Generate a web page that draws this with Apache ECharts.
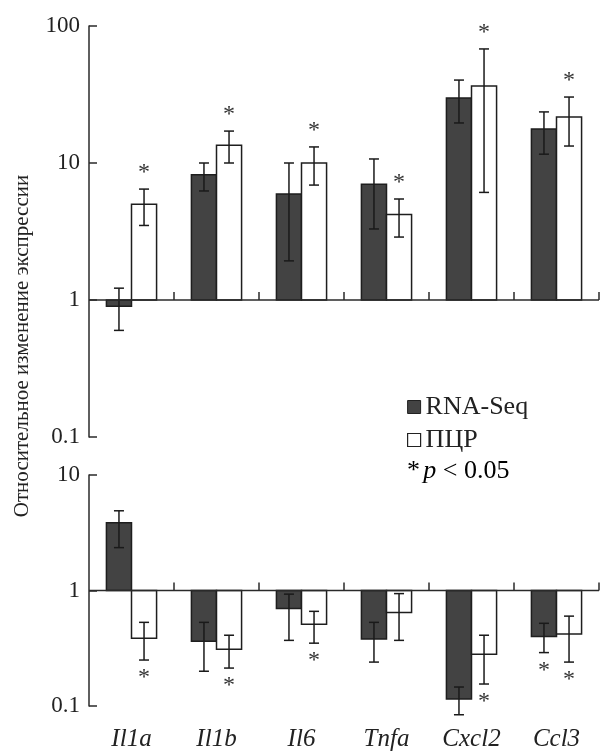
<!DOCTYPE html>
<html>
<head>
<meta charset="utf-8">
<script src="https://cdn.jsdelivr.net/npm/echarts@6/dist/echarts.min.js"></script>
<style>
html,body{margin:0;padding:0;background:#fff;}
#chart{width:601px;height:752px;}
</style>
</head>
<body>
<div id="chart"></div>
<script>
const categories = ['Il1a', 'Il1b', 'Il6', 'Tnfa', 'Cxcl2', 'Ccl3'];
const topTicks = [0.1, 1, 10, 100];
const bottomTicks = [0.1, 1, 10];

// Upper panel
const topRnaSeq      = [0.90, 8.2, 5.95, 7.0, 29.8, 17.7];
const topRnaSeqLow   = [0.60, 6.25, 1.93, 3.3, 19.6, 11.6];
const topRnaSeqHigh  = [1.22, 10.0, 10.0, 10.7, 40.3, 23.6];
const topRnaSeqSig   = [0, 0, 0, 0, 0, 0];
const topPcr         = [5.0, 13.5, 10.0, 4.2, 36.5, 21.7];
const topPcrLow      = [3.5, 10.0, 6.9, 2.88, 6.1, 13.3];
const topPcrHigh     = [6.45, 17.1, 13.1, 5.46, 68, 30.3];
const topPcrSig      = [1, 1, 1, 1, 1, 1];

// Lower panel
const botRnaSeq      = [3.86, 0.363, 0.70, 0.38, 0.115, 0.40];
const botRnaSeqLow   = [2.35, 0.20, 0.37, 0.24, 0.084, 0.29];
const botRnaSeqHigh  = [4.9, 0.53, 0.93, 0.53, 0.146, 0.52];
const botRnaSeqSig   = [0, 0, 0, 0, 0, 1];
const botPcr         = [0.386, 0.31, 0.51, 0.645, 0.28, 0.42];
const botPcrLow      = [0.25, 0.213, 0.35, 0.37, 0.155, 0.24];
const botPcrHigh     = [0.53, 0.41, 0.66, 0.94, 0.41, 0.60];
const botPcrSig      = [1, 1, 1, 0, 1, 1];

const FONT = 'Liberation Serif';
const DARK = '#434343';
const INK = '#222';

function rows(v, lo, hi, sig) {
  return categories.map((c, i) => [i, v[i], lo[i], hi[i], sig[i]]);
}

function barRender(isRna) {
  return function (params, api) {
    const i = api.value(0), v = api.value(1), lo = api.value(2), hi = api.value(3), sig = api.value(4);
    const base = api.coord([i, 1]);
    const top = api.coord([i, v]);
    const bw = api.size([1, 1])[0];
    const barW = bw * 0.295;
    const x0 = isRna ? base[0] - barW : base[0];
    const xc = x0 + barW / 2;
    const pLo = api.coord([i, lo]);
    const pHi = api.coord([i, hi]);
    const cap = 5;
    const children = [
      { type: 'rect', shape: { x: x0, y: Math.min(top[1], base[1]), width: barW, height: Math.abs(top[1] - base[1]) },
        style: { fill: isRna ? DARK : '#fff', stroke: '#1e1e1e', lineWidth: 1.5 } },
      { type: 'line', shape: { x1: xc, y1: pLo[1], x2: xc, y2: pHi[1] }, style: { stroke: '#1a1a1a', lineWidth: 1.5 } },
      { type: 'line', shape: { x1: xc - cap, y1: pLo[1], x2: xc + cap, y2: pLo[1] }, style: { stroke: '#1a1a1a', lineWidth: 1.5 } },
      { type: 'line', shape: { x1: xc - cap, y1: pHi[1], x2: xc + cap, y2: pHi[1] }, style: { stroke: '#1a1a1a', lineWidth: 1.5 } }
    ];
    if (sig) {
      const sy = v >= 1 ? pHi[1] - 19 : pLo[1] + 15;
      children.push({ type: 'text', x: xc, y: sy + 3,
        style: { text: '*', fontFamily: FONT, fontSize: 24, fill: '#333', align: 'center', verticalAlign: 'middle' } });
    }
    return { type: 'group', children };
  };
}

function baseRender(params, api) {
  const i = api.value(0);
  const p = api.coord([i, 1]);
  const bw = api.size([1, 1])[0];
  return { type: 'group', children: [
    { type: 'line', shape: { x1: p[0] - bw / 2, y1: p[1], x2: p[0] + bw / 2, y2: p[1] }, style: { stroke: '#2a2a2a', lineWidth: 1.5 } },
    { type: 'line', shape: { x1: p[0] + bw / 2, y1: p[1], x2: p[0] + bw / 2, y2: p[1] - 8 }, style: { stroke: '#2a2a2a', lineWidth: 1.5 } }
  ] };
}

function yAxisFor(gridIndex, min, max, ticks) {
  return {
    type: 'log', gridIndex, min, max, logBase: 10,
    axisLine: { show: true, lineStyle: { color: '#2a2a2a', width: 1.5 } },
    axisTick: { show: true, inside: true, length: 8, lineStyle: { color: '#2a2a2a', width: 1.5 } },
    minorTick: { show: false },
    splitLine: { show: false },
    axisLabel: { fontFamily: FONT, fontSize: 23, color: INK, margin: 9,
      formatter: v => { const t = ticks.find(k => Math.abs(k - v) / k < 1e-6); return t === undefined ? '' : String(t); } }
  };
}

const chart = echarts.init(document.getElementById('chart'), null, { renderer: 'canvas' });
chart.setOption({
  backgroundColor: '#fff',
  animation: false,
  grid: [
    { left: 89, right: 2, top: 26, bottom: 315 },
    { left: 89, right: 2, top: 475, bottom: 45 }
  ],
  xAxis: [
    { type: 'category', gridIndex: 0, data: categories, show: false },
    { type: 'category', gridIndex: 1, data: categories,
      axisLine: { show: false }, axisTick: { show: false },
      axisLabel: { fontFamily: FONT, fontSize: 25, fontStyle: 'italic', color: INK, margin: 21 } }
  ],
  yAxis: [
    yAxisFor(0, 0.1, 100, topTicks),
    yAxisFor(1, 0.1, 10, bottomTicks)
  ],
  legend: {
    orient: 'vertical', left: 407, top: 394, padding: 0, itemGap: 7,
    itemWidth: 13, itemHeight: 13, icon: 'rect', itemTextGap: 10,
    textStyle: { fontFamily: FONT, fontSize: 26, color: INK },
    data: [
      { name: 'RNA-Seq', itemStyle: { color: DARK, borderColor: '#222', borderWidth: 1 } },
      { name: 'ПЦР', itemStyle: { color: '#fff', borderColor: '#222', borderWidth: 1.2 } }
    ],
    selectedMode: false
  },
  graphic: [
    { type: 'text', x: 22, y: 346, rotation: Math.PI / 2,
      style: { text: 'Относительное изменение экспрессии', fontFamily: FONT, fontSize: 21, fill: INK, align: 'center', verticalAlign: 'middle' } },
    { type: 'text', x: 407, y: 471,
      style: { text: '{a|*} {b|p}{a| < 0.05}', verticalAlign: 'middle', align: 'left',
        rich: { a: { fontFamily: FONT, fontSize: 26, color: INK }, b: { fontFamily: FONT, fontSize: 26, fontStyle: 'italic', color: INK } } } }
  ],
  series: [
    { type: 'custom', name: 'RNA-Seq', xAxisIndex: 0, yAxisIndex: 0, renderItem: barRender(true),
      itemStyle: { color: DARK }, encode: { x: 0, y: 1 }, data: rows(topRnaSeq, topRnaSeqLow, topRnaSeqHigh, topRnaSeqSig), silent: true },
    { type: 'custom', name: 'ПЦР', xAxisIndex: 0, yAxisIndex: 0, renderItem: barRender(false),
      itemStyle: { color: '#fff' }, encode: { x: 0, y: 1 }, data: rows(topPcr, topPcrLow, topPcrHigh, topPcrSig), silent: true },
    { type: 'custom', name: 'RNA-Seq', xAxisIndex: 1, yAxisIndex: 1, renderItem: barRender(true),
      itemStyle: { color: DARK }, encode: { x: 0, y: 1 }, data: rows(botRnaSeq, botRnaSeqLow, botRnaSeqHigh, botRnaSeqSig), silent: true },
    { type: 'custom', name: 'ПЦР', xAxisIndex: 1, yAxisIndex: 1, renderItem: barRender(false),
      itemStyle: { color: '#fff' }, encode: { x: 0, y: 1 }, data: rows(botPcr, botPcrLow, botPcrHigh, botPcrSig), silent: true },
    { type: 'custom', name: 'base0', xAxisIndex: 0, yAxisIndex: 0, renderItem: baseRender, z: 5, silent: true,
      encode: { x: 0, y: 1 }, data: categories.map((c, i) => [i, 1]) },
    { type: 'custom', name: 'base1', xAxisIndex: 1, yAxisIndex: 1, renderItem: baseRender, z: 5, silent: true,
      encode: { x: 0, y: 1 }, data: categories.map((c, i) => [i, 1]) }
  ]
});
</script>
</body>
</html>
